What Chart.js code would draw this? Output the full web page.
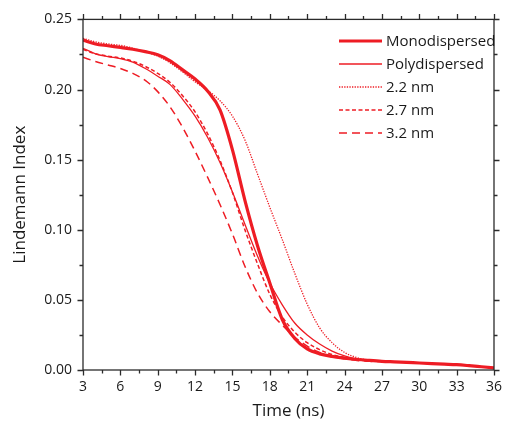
<!DOCTYPE html>
<html><head><meta charset="utf-8">
<script src="https://cdn.jsdelivr.net/npm/chart.js@4/dist/chart.umd.min.js"></script>
<style>html,body{margin:0;padding:0;background:#fff}</style>
</head><body>
<canvas id="c" width="511" height="429"></canvas>
<script>
// ---- data ----
const time = [3,4,5,6,7,8,9,10,11,12,13,14,15,16,17,18,19,20,21,22,23,24,25,26,27,28,29,30,31,32,33,34,35,36];
const monodispersed = [0.2352,0.2325,0.2312,0.2300,0.2287,0.2270,0.2248,0.2205,0.2140,0.2075,0.1990,0.1855,0.1570,0.1210,0.0890,0.0620,0.0360,0.0225,0.0150,0.0115,0.0097,0.0085,0.0075,0.0068,0.0062,0.0058,0.0054,0.0050,0.0046,0.0042,0.0038,0.0031,0.0023,0.0015];
const polydispersed = [0.2294,0.2255,0.2235,0.2220,0.2195,0.2150,0.2095,0.2035,0.1930,0.1810,0.1660,0.1480,0.1270,0.1040,0.0815,0.0620,0.0465,0.0335,0.0250,0.0185,0.0135,0.0100,0.0078,0.0066,0.0062,0.0058,0.0054,0.0050,0.0046,0.0042,0.0038,0.0031,0.0023,0.0015];
const size22nm = [0.2365,0.2340,0.2325,0.2315,0.2295,0.2268,0.2238,0.2190,0.2125,0.2055,0.1995,0.1920,0.1810,0.1640,0.1400,0.1160,0.0930,0.0690,0.0470,0.0300,0.0195,0.0125,0.0088,0.0068,0.0062,0.0058,0.0054,0.0050,0.0046,0.0042,0.0038,0.0031,0.0023,0.0015];
const size27nm = [0.2285,0.2255,0.2238,0.2225,0.2202,0.2165,0.2115,0.2050,0.1955,0.1840,0.1685,0.1495,0.1265,0.1000,0.0760,0.0540,0.0380,0.0270,0.0195,0.0145,0.0110,0.0090,0.0074,0.0064,0.0062,0.0058,0.0054,0.0050,0.0046,0.0042,0.0038,0.0031,0.0023,0.0015];
const size32nm = [0.2230,0.2200,0.2175,0.2150,0.2115,0.2065,0.1985,0.1875,0.1730,0.1560,0.1375,0.1180,0.0970,0.0740,0.0550,0.0415,0.0320,0.0235,0.0170,0.0125,0.0097,0.0080,0.0068,0.0062,0.0060,0.0058,0.0054,0.0050,0.0046,0.0042,0.0038,0.0031,0.0023,0.0015];
const seriesNames = ['Monodispersed','Polydispersed','2.2 nm','2.7 nm','3.2 nm'];
const xTicks = [3,6,9,12,15,18,21,24,27,30,33,36];
const yTicks = [0,0.05,0.10,0.15,0.20,0.25];

const RED = '#EE1C24';
const FONT = "'Open Sans', sans-serif";
const pts = arr => time.map((t,i)=>({x:t, y:arr[i]}));

const frame = {
  id:'frame',
  afterDraw(chart){
    const {ctx, chartArea:a, scales:{x,y}} = chart;
    ctx.save();
    ctx.strokeStyle = '#2b2b2b'; ctx.lineWidth = 1.3;
    ctx.strokeRect(a.left, a.top, a.right-a.left, a.bottom-a.top);
    ctx.beginPath();
    const MAJ = 5.5, MIN = 3.5;
    const xs = [];
    xTicks.forEach((v,i)=>{ xs.push([v,MAJ]); if(i<xTicks.length-1) xs.push([(v+xTicks[i+1])/2,MIN]); });
    xs.forEach(([v,L])=>{ const p = Math.round(x.getPixelForValue(v))+0.5;
      ctx.moveTo(p,a.bottom); ctx.lineTo(p,a.bottom+L);
      ctx.moveTo(p,a.top); ctx.lineTo(p,a.top-L); });
    const ys = [];
    yTicks.forEach((v,i)=>{ ys.push([v,MAJ]); if(i<yTicks.length-1) ys.push([(v+yTicks[i+1])/2,MIN]); });
    ys.forEach(([v,L])=>{ const p = Math.round(y.getPixelForValue(v))+0.5;
      ctx.moveTo(a.left,p); ctx.lineTo(a.left-L,p);
      ctx.moveTo(a.right,p); ctx.lineTo(a.right+L,p); });
    ctx.stroke();
    // legend
    const ds = chart.data.datasets;
    ctx.font = "15px " + FONT; ctx.fillStyle = '#1a1a1a'; ctx.textBaseline = 'middle'; ctx.textAlign='left';
    ds.forEach((d,i)=>{
      const yy = 41 + i*23;
      ctx.beginPath(); ctx.strokeStyle = d.borderColor; ctx.lineWidth = d.borderWidth;
      ctx.setLineDash(d.borderDash||[]);
      ctx.moveTo(339,yy); ctx.lineTo(382,yy); ctx.stroke();
      ctx.setLineDash([]);
      ctx.fillText(d.label, 386, yy+0.5);
    });
    ctx.restore();
  }
};

new Chart(document.getElementById('c'), {
  type:'line',
  data:{ datasets:[
    {label:seriesNames[0], data:pts(monodispersed), borderColor:RED, borderWidth:3.2},
    {label:seriesNames[1], data:pts(polydispersed), borderColor:RED, borderWidth:1.3},
    {label:seriesNames[2], data:pts(size22nm), borderColor:RED, borderWidth:1.3, borderDash:[1.3,1.3]},
    {label:seriesNames[3], data:pts(size27nm), borderColor:RED, borderWidth:1.5, borderDash:[4,2.5]},
    {label:seriesNames[4], data:pts(size32nm), borderColor:RED, borderWidth:1.5, borderDash:[8,5]},
  ]},
  options:{
    responsive:false, animation:false, devicePixelRatio:1,
    elements:{point:{radius:0}, line:{cubicInterpolationMode:'monotone', fill:false}},
    layout:{padding:{left:0,top:18,right:10,bottom:0}},
    plugins:{legend:{display:false}, tooltip:{enabled:false}},
    scales:{
      x:{type:'linear', min:3, max:36,
        afterFit(s){ s.height = 59; },
        grid:{display:false, drawTicks:false}, border:{display:false},
        ticks:{stepSize:3, padding:9, color:'#1a1a1a', font:{family:FONT, size:14}, maxRotation:0, autoSkip:false},
        title:{display:true, text:'Time (ns)', color:'#1a1a1a', font:{family:FONT, size:17}, padding:{top:0,bottom:8}}
      },
      y:{type:'linear', min:0, max:0.25,
        afterFit(s){ s.width = 83; },
        grid:{display:false, drawTicks:false}, border:{display:false},
        ticks:{stepSize:0.05, padding:11, color:'#1a1a1a', font:{family:FONT, size:14}, callback:v=>Number(v).toFixed(2)},
        title:{display:true, text:'Lindemann Index', color:'#1a1a1a', font:{family:FONT, size:17}, padding:{top:10,bottom:0}}
      }
    }
  },
  plugins:[frame]
});
</script>
</body></html>
